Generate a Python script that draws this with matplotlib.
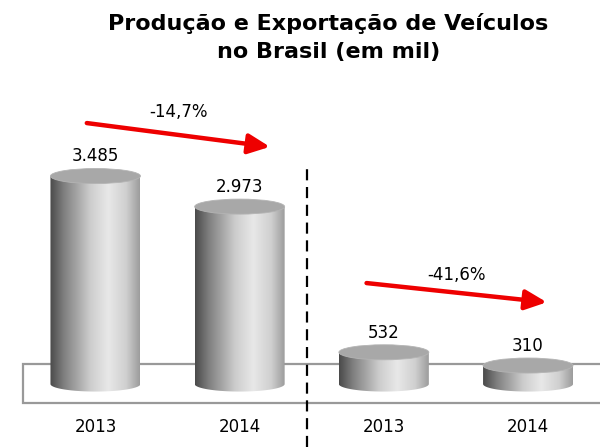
import numpy as np
import matplotlib.pyplot as plt
from matplotlib.colors import LinearSegmentedColormap
from matplotlib.patches import Ellipse, PathPatch, Rectangle
from matplotlib.path import Path

# Dados (mil veículos)
anos = ['2013', '2014', '2013', '2014']
valores = [3485, 2973, 532, 310]
rotulos = ['3.485', '2.973', '532', '310']
variacoes = ['-14,7%', '-41,6%']
titulo = 'Produção e Exportação de Veículos\nno Brasil (em mil)'

x = np.arange(len(valores))
larg = 0.624      # largura do cilindro (unidades do eixo x)
ry = 126          # raio vertical da elipse (unidades do eixo y)

fig = plt.figure(figsize=(6, 4.47), dpi=100)
ax = fig.add_axes([0, 0, 1, 1])
ax.set_xlim(-0.662, 3.499)
ax.set_ylim(-1055, 6435)
ax.axis('off')

cmap = LinearSegmentedColormap.from_list('cil', [
    (0.0, '#4a4a4a'), (0.15, '#7e7e7e'), (0.45, '#cdcdcd'),
    (0.65, '#e8e8e8'), (0.85, '#cfcfcf'), (1.0, '#9c9c9c')])
grad = np.linspace(0, 1, 256).reshape(1, -1)

# "chão"
ax.add_patch(Rectangle((-0.503, -318), 4.5, 653, facecolor='white',
                       edgecolor='#999999', lw=1.6, zorder=1))

for xi, v in zip(x, valores):
    esq, dir_ = xi - larg / 2, xi + larg / 2
    t = np.linspace(np.pi, 2 * np.pi, 60)
    base = np.column_stack([xi + larg / 2 * np.cos(t), ry * np.sin(t)])
    verts = np.vstack([[esq, v], base, [dir_, v], [esq, v]])
    codes = [Path.MOVETO] + [Path.LINETO] * (len(verts) - 2) + [Path.CLOSEPOLY]
    corpo = PathPatch(Path(verts, codes), facecolor='none', edgecolor='none')
    ax.add_patch(corpo)
    im = ax.imshow(grad, cmap=cmap, aspect='auto', extent=[esq, dir_, -ry, v],
                   zorder=2)
    im.set_clip_path(corpo)
    ax.add_patch(Ellipse((xi, v), larg, 2 * ry, facecolor='#a8a8a8',
                         edgecolor='#b4b4b4', lw=0.6, zorder=3))

ax.set_xlim(-0.662, 3.499)
ax.set_ylim(-1055, 6435)

for xi, v, r in zip(x, valores, rotulos):
    ax.text(xi, v + 330, r, ha='center', va='center', fontsize=12)

for xi, a in zip(x, anos):
    ax.text(xi, -720, a, ha='center', va='center', fontsize=12)

# separador
ax.axvline(1.47, ymax=0.635, color='black', lw=1.6, ls=(0, (5, 3)))

# setas de variação
setas = [((-0.06, 4373), (1.21, 3975)), ((1.88, 1692), (3.13, 1370))]
pos_txt = [(0.575, 4560), (2.506, 1830)]
for (ini, fim), (tx, ty), s in zip(setas, pos_txt, variacoes):
    ax.annotate('', xy=fim, xytext=ini,
                arrowprops=dict(arrowstyle='-|>,head_length=1.3,head_width=0.6',
                                color='#ee0000', lw=3.2, shrinkA=0, shrinkB=0))
    ax.text(tx, ty, s, ha='center', va='center', fontsize=12)

fig.text(0.547, 0.972, titulo, ha='center', va='top', fontsize=16,
         fontweight='bold', linespacing=1.55)

fig.savefig('out.png', dpi=100)
